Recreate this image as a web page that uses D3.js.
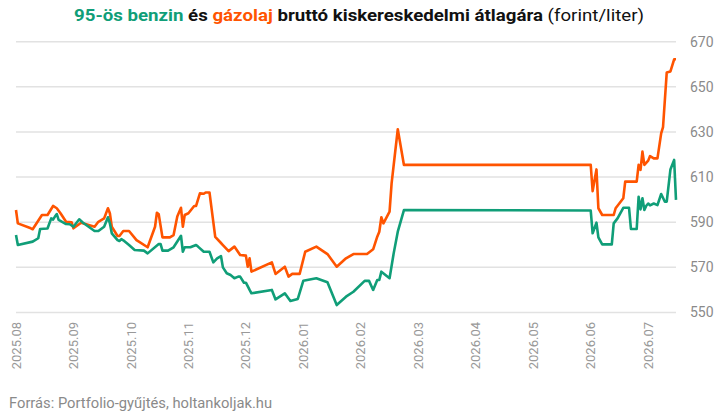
<!DOCTYPE html>
<html>
<head>
<meta charset="utf-8">
<script src="https://cdn.jsdelivr.net/npm/d3@7"></script>
<style>
  html, body { margin: 0; padding: 0; background: #fff; }
  svg { display: block; font-family: Roboto, "Noto Sans", sans-serif; }
</style>
</head>
<body>
<svg id="chart" width="718" height="415"></svg>
<script>
// havi tengelyfeliratok
const monthLabels = ['2025.08', '2025.09', '2025.10', '2025.11', '2025.12', '2026.01',
    '2026.02', '2026.03', '2026.04', '2026.05', '2026.06', '2026.07'];
const yTicks = [550, 570, 590, 610, 630, 650, 670];

// 95-ös benzin (Ft/l)
const benzin = [
    ['2025-08-01', 584.3], ['2025-08-02', 579.9], ['2025-08-10', 581.4], ['2025-08-13', 582.9],
    ['2025-08-14', 587.0], ['2025-08-18', 587.2], ['2025-08-20', 591.7], ['2025-08-21', 591.2],
    ['2025-08-22', 592.5], ['2025-08-23', 593.6], ['2025-08-24', 591.0], ['2025-08-28', 589.2],
    ['2025-08-30', 589.1], ['2025-09-01', 588.0], ['2025-09-04', 591.3], ['2025-09-06', 589.8],
    ['2025-09-12', 586.1], ['2025-09-14', 586.1], ['2025-09-17', 588.0], ['2025-09-19', 592.2],
    ['2025-09-20', 589.5], ['2025-09-21', 585.1], ['2025-09-24', 582.1], ['2025-09-25', 581.7],
    ['2025-09-26', 582.5], ['2025-09-27', 582.0], ['2025-09-30', 579.9], ['2025-10-03', 577.7],
    ['2025-10-08', 577.4], ['2025-10-10', 576.2], ['2025-10-16', 580.3], ['2025-10-17', 580.3],
    ['2025-10-18', 577.4], ['2025-10-21', 577.4], ['2025-10-24', 578.9], ['2025-10-28', 584.0],
    ['2025-10-29', 576.9], ['2025-10-30', 578.9], ['2025-11-02', 578.9], ['2025-11-05', 579.9],
    ['2025-11-06', 579.2], ['2025-11-09', 576.9], ['2025-11-12', 576.9], ['2025-11-14', 572.2],
    ['2025-11-16', 574.0], ['2025-11-18', 575.0], ['2025-11-19', 570.0], ['2025-11-21', 567.4],
    ['2025-11-23', 566.6], ['2025-11-25', 565.2], ['2025-11-27', 565.9], ['2025-11-28', 565.9],
    ['2025-11-30', 563.2], ['2025-12-01', 563.2], ['2025-12-03', 560.0], ['2025-12-04', 558.5],
    ['2025-12-15', 560.0], ['2025-12-17', 555.8], ['2025-12-22', 558.5], ['2025-12-25', 555.1],
    ['2025-12-29', 556.0], ['2026-01-01', 564.1], ['2026-01-08', 565.2], ['2026-01-14', 563.4],
    ['2026-01-19', 553.3], ['2026-01-24', 557.0], ['2026-01-28', 559.2], ['2026-02-03', 564.1],
    ['2026-02-05', 564.0], ['2026-02-07', 560.0], ['2026-02-09', 564.4], ['2026-02-10', 564.4],
    ['2026-02-11', 568.1], ['2026-02-15', 565.2], ['2026-02-17', 576.2], ['2026-02-19', 585.8],
    ['2026-02-22', 595.4], ['2026-06-01', 595.2], ['2026-06-02', 585.1], ['2026-06-04', 589.8],
    ['2026-06-05', 583.3], ['2026-06-07', 580.2], ['2026-06-12', 580.2], ['2026-06-13', 589.5],
    ['2026-06-15', 591.7], ['2026-06-18', 596.4], ['2026-06-21', 596.4], ['2026-06-22', 587.0],
    ['2026-06-25', 587.0], ['2026-06-26', 601.3], ['2026-06-27', 595.7], ['2026-06-28', 600.6],
    ['2026-06-29', 595.4], ['2026-06-30', 597.3], ['2026-07-01', 598.3], ['2026-07-02', 597.5],
    ['2026-07-04', 598.3], ['2026-07-06', 597.6], ['2026-07-08', 602.5], ['2026-07-10', 599.1],
    ['2026-07-11', 599.1], ['2026-07-13', 613.4], ['2026-07-15', 617.6], ['2026-07-16', 599.9]
];

// gázolaj (Ft/l)
const gazolaj = [
    ['2025-08-01', 595.4], ['2025-08-02', 589.5], ['2025-08-09', 587.3], ['2025-08-10', 586.9],
    ['2025-08-15', 593.2], ['2025-08-18', 593.2], ['2025-08-21', 597.2], ['2025-08-23', 596.2],
    ['2025-08-25', 594.0], ['2025-08-28', 590.2], ['2025-08-31', 590.0], ['2025-09-01', 587.3],
    ['2025-09-05', 589.8], ['2025-09-12', 588.0], ['2025-09-14', 590.2], ['2025-09-17', 591.7],
    ['2025-09-19', 596.2], ['2025-09-20', 594.0], ['2025-09-21', 588.0], ['2025-09-24', 583.9],
    ['2025-09-25', 583.9], ['2025-09-27', 586.1], ['2025-09-30', 586.1], ['2025-10-04', 582.1],
    ['2025-10-10', 578.9], ['2025-10-14', 588.0], ['2025-10-15', 594.2], ['2025-10-16', 593.5],
    ['2025-10-18', 583.3], ['2025-10-22', 583.3], ['2025-10-24', 584.3], ['2025-10-26', 592.5],
    ['2025-10-28', 596.4], ['2025-10-29', 588.0], ['2025-10-30', 593.2], ['2025-11-01', 594.0],
    ['2025-11-04', 597.2], ['2025-11-05', 597.2], ['2025-11-07', 602.8], ['2025-11-09', 602.6],
    ['2025-11-10', 603.2], ['2025-11-12', 603.2], ['2025-11-15', 583.5], ['2025-11-18', 580.8],
    ['2025-11-19', 579.9], ['2025-11-22', 577.2], ['2025-11-25', 579.2], ['2025-11-28', 575.5],
    ['2025-12-01', 575.2], ['2025-12-02', 570.3], ['2025-12-03', 574.0], ['2025-12-04', 568.1],
    ['2025-12-15', 572.2], ['2025-12-17', 567.1], ['2025-12-22', 570.3], ['2025-12-24', 565.9],
    ['2025-12-26', 567.1], ['2025-12-30', 567.1], ['2026-01-02', 576.9], ['2026-01-08', 579.2],
    ['2026-01-14', 575.9], ['2026-01-19', 570.3], ['2026-01-24', 574.0], ['2026-01-28', 575.9],
    ['2026-02-04', 575.9], ['2026-02-07', 578.0], ['2026-02-09', 583.6], ['2026-02-10', 585.8],
    ['2026-02-11', 592.2], ['2026-02-12', 589.5], ['2026-02-15', 594.7], ['2026-02-16', 607.3],
    ['2026-02-19', 631.2], ['2026-02-22', 615.4], ['2026-06-01', 615.4], ['2026-06-02', 603.8],
    ['2026-06-04', 613.4], ['2026-06-05', 596.2], ['2026-06-07', 593.2], ['2026-06-13', 593.2],
    ['2026-06-14', 596.2], ['2026-06-18', 600.6], ['2026-06-19', 608.0], ['2026-06-25', 608.0],
    ['2026-06-26', 615.4], ['2026-06-27', 613.2], ['2026-06-28', 621.3], ['2026-06-29', 615.4],
    ['2026-07-01', 617.3], ['2026-07-02', 619.3], ['2026-07-04', 618.3], ['2026-07-06', 618.3],
    ['2026-07-08', 629.4], ['2026-07-09', 632.1], ['2026-07-11', 656.3], ['2026-07-13', 656.8],
    ['2026-07-15', 662.2], ['2026-07-16', 662.2]
];

const GREEN = '#109e78';
const ORANGE = '#ff5400';

// a tengely havi egyenközű, ezért a dátumot tört hónap-indexre váltjuk
function monthIndex(s) {
    const [y, m, d] = s.split('-').map(Number);
    const days = new Date(y, m, 0).getDate();
    return (y - 2025) * 12 + (m - 8) + (d - 1) / days;
}

const svg = d3.select('#chart');
const lastIdx = monthIndex(gazolaj[gazolaj.length - 1][0]);

const x = d3.scaleLinear().domain([0, lastIdx]).range([16, 676]);
const y = d3.scaleLinear().domain([550, 670]).range([312.5, 41.7]);

// title
const title = svg.append('text')
    .attr('x', 74)
    .attr('y', 21)
    .style('font-size', '17px')
    .style('font-weight', 700);
title.append('tspan').attr('fill', GREEN).text('95-ös benzin');
title.append('tspan').attr('fill', '#111').text(' és ');
title.append('tspan').attr('fill', ORANGE).text('gázolaj');
title.append('tspan').attr('fill', '#111').text(' bruttó kiskereskedelmi átlagára ');
title.append('tspan').attr('fill', '#111').style('font-weight', 400).text('(forint/liter)');
title.attr('textLength', 570).attr('lengthAdjust', 'spacingAndGlyphs');

// grid + y labels
svg.append('g')
    .selectAll('line')
    .data(yTicks)
    .join('line')
    .attr('x1', 16)
    .attr('x2', 676)
    .attr('y1', d => y(d))
    .attr('y2', d => y(d))
    .attr('stroke', '#e2e2e2')
    .attr('stroke-width', 1.5);

svg.append('g')
    .selectAll('text')
    .data(yTicks)
    .join('text')
    .attr('x', 690)
    .attr('y', d => y(d))
    .attr('dy', '0.35em')
    .attr('fill', '#8a8a8a')
    .style('font-size', '14px')
    .text(d => d);

// x labels (függőleges)
svg.append('g')
    .selectAll('text')
    .data(monthLabels)
    .join('text')
    .attr('transform', (d, i) => `translate(${x(i)},322) rotate(-90)`)
    .attr('text-anchor', 'end')
    .attr('dy', '0.35em')
    .attr('fill', '#999')
    .style('font-size', '13px')
    .text(d => d);

// lines
const line = d3.line()
    .x(d => x(monthIndex(d[0])))
    .y(d => y(d[1]));

svg.append('path')
    .datum(gazolaj)
    .attr('fill', 'none')
    .attr('stroke', ORANGE)
    .attr('stroke-width', 2.6)
    .attr('stroke-linejoin', 'round')
    .attr('d', line);

svg.append('path')
    .datum(benzin)
    .attr('fill', 'none')
    .attr('stroke', GREEN)
    .attr('stroke-width', 2.6)
    .attr('stroke-linejoin', 'round')
    .attr('d', line);

// source
svg.append('text')
    .attr('x', 9)
    .attr('y', 408)
    .attr('fill', '#8a8a8a')
    .style('font-size', '14px')
    .attr('textLength', 263)
    .attr('lengthAdjust', 'spacingAndGlyphs')
    .text('Forrás: Portfolio-gyűjtés, holtankoljak.hu');
</script>
</body>
</html>
